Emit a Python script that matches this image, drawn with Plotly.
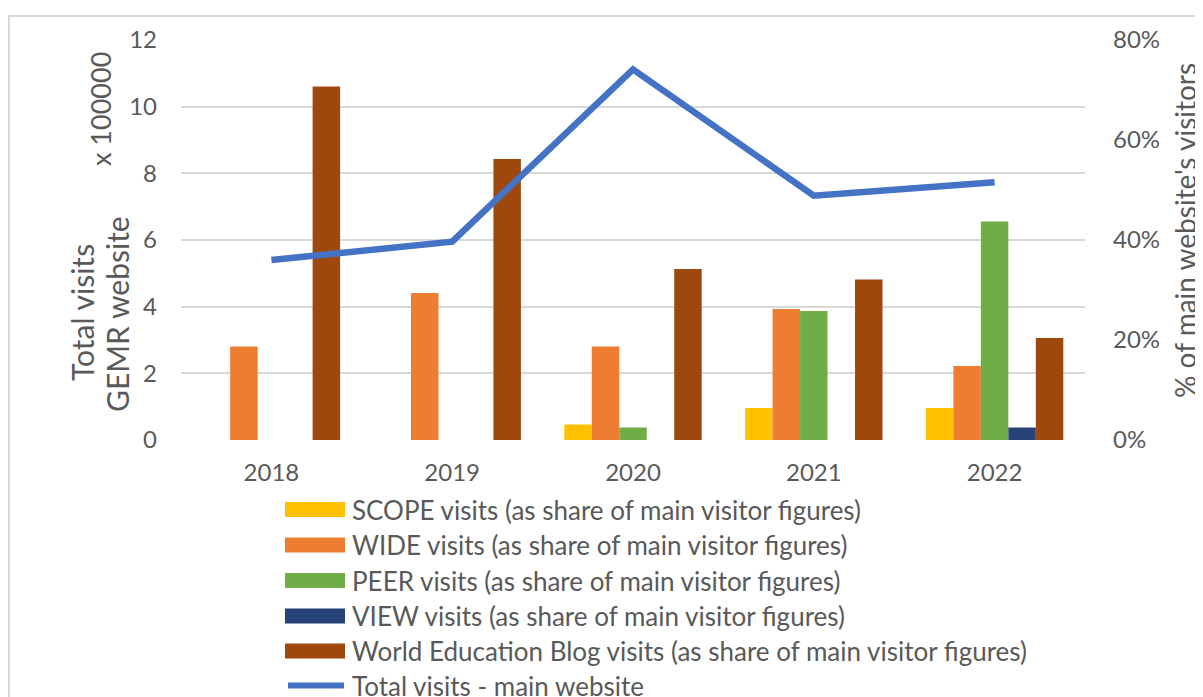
import plotly.graph_objects as go

years = ["2018", "2019", "2020", "2021", "2022"]
scope_share = [None, None, 0.031, 0.064, 0.064]
wide_share = [0.187, 0.294, 0.187, 0.262, 0.148]
peer_share = [None, None, 0.025, 0.258, 0.437]
view_share = [None, None, None, None, 0.025]
blog_share = [0.707, 0.562, 0.342, 0.321, 0.204]
total_visits = [5.40, 5.95, 11.12, 7.33, 7.73]  # x 100000

left_ticks = [0, 2, 4, 6, 8, 10, 12]
right_ticks = [0, 0.2, 0.4, 0.6, 0.8]

series = [
    ("SCOPE visits (as share of main visitor figures)", scope_share, "#FFC000"),
    ("WIDE visits (as share of main visitor figures)", wide_share, "#ED7D31"),
    ("PEER visits (as share of main visitor figures)", peer_share, "#70AD47"),
    ("VIEW visits (as share of main visitor figures)", view_share, "#264478"),
    ("World Education Blog visits (as share of main visitor figures)", blog_share, "#9E480E"),
]
line_name = "Total visits - main website"
line_color = "#4472C4"

FONT = "Lato, Carlito, Calibri, Liberation Sans, sans-serif"
GRAY = "#595959"

OFF = 8  # page body margin
W, H = 1203 - OFF, 697 - OFF
# plot area in page pixels
PL, PR, PT, PB = 181, 1085, 40, 440
L, R, T, B = PL - OFF, PR - OFF, PT - OFF, PB - OFF


def px(x):
    return (x - PL) / (PR - PL)


def py(y):
    return (PB - y) / (PB - PT)


fig = go.Figure()
for name, vals, col in series:
    fig.add_trace(go.Bar(x=years, y=vals, name=name, marker=dict(color=col, line=dict(width=0)),
                         yaxis="y", showlegend=False))
fig.add_trace(go.Scatter(x=years, y=total_visits, name=line_name, mode="lines",
                         line=dict(color=line_color, width=6.5), yaxis="y2", showlegend=False))

shapes = []
annotations = []
# outer frame
shapes.append(dict(type="rect", xref="paper", yref="paper", x0=px(9), x1=px(1240), y0=py(740), y1=py(16),
                   line=dict(color="#D9D9D9", width=2), fillcolor="rgba(0,0,0,0)", layer="below"))

# custom legend
LEG_FS = 26
row_y = [509.5, 545, 580.5, 616, 651]
for (name, vals, col), yc in zip(series, row_y):
    shapes.append(dict(type="rect", xref="paper", yref="paper", x0=px(285), x1=px(345),
                       y0=py(yc + 7.5), y1=py(yc - 7.5), fillcolor=col, line=dict(width=0)))
    annotations.append(dict(text=name, xref="paper", yref="paper", x=px(350), y=py(yc),
                            xanchor="left", yanchor="middle", showarrow=False,
                            font=dict(family=FONT, size=LEG_FS, color=GRAY)))
yl = 685.5
shapes.append(dict(type="line", xref="paper", yref="paper", x0=px(288), x1=px(344), y0=py(yl), y1=py(yl),
                   line=dict(color=line_color, width=6)))
annotations.append(dict(text=line_name, xref="paper", yref="paper", x=px(350), y=py(yl),
                        xanchor="left", yanchor="middle", showarrow=False,
                        font=dict(family=FONT, size=LEG_FS, color=GRAY)))

# axis titles
annotations.append(dict(text="Total visits", xref="paper", yref="paper", x=px(82), y=py(313),
                        xanchor="center", yanchor="middle", textangle=-90, showarrow=False,
                        font=dict(family=FONT, size=30, color=GRAY)))
annotations.append(dict(text="GEMR website", xref="paper", yref="paper", x=px(117), y=py(314),
                        xanchor="center", yanchor="middle", textangle=-90, showarrow=False,
                        font=dict(family=FONT, size=30, color=GRAY)))
annotations.append(dict(text="x 100000", xref="paper", yref="paper", x=px(100), y=py(109),
                        xanchor="center", yanchor="middle", textangle=-90, showarrow=False,
                        font=dict(family=FONT, size=27, color=GRAY)))
annotations.append(dict(text="% of main website's visitors", xref="paper", yref="paper", x=px(1185), y=py(231),
                        xanchor="center", yanchor="middle", textangle=-90, showarrow=False,
                        font=dict(family=FONT, size=28, color=GRAY)))

fig.update_layout(
    width=W, height=H,
    margin=dict(l=L, r=W - R, t=T, b=H - B, autoexpand=False),
    paper_bgcolor="white", plot_bgcolor="white",
    barmode="group", bargap=0.24, bargroupgap=0,
    font=dict(family=FONT, size=24, color=GRAY),
    showlegend=False,
    shapes=shapes, annotations=annotations,
    xaxis=dict(type="category", showgrid=False, showline=False, zeroline=False, ticks="",
               ticklabelstandoff=16, tickfont=dict(size=24, color=GRAY)),
    yaxis=dict(side="right", range=[0, 0.8], tickvals=right_ticks, tickformat=".0%",
               showgrid=False, zeroline=False, showline=False, ticks="",
               ticklabelstandoff=27, tickfont=dict(size=24, color=GRAY)),
    yaxis2=dict(side="left", overlaying="y", range=[0, 12], tickvals=left_ticks,
                showgrid=True, gridcolor="#D9D9D9", gridwidth=2, zeroline=False, showline=False,
                ticks="", ticklabelstandoff=23, tickfont=dict(size=24, color=GRAY)),
)

fig.write_html("out.html")
